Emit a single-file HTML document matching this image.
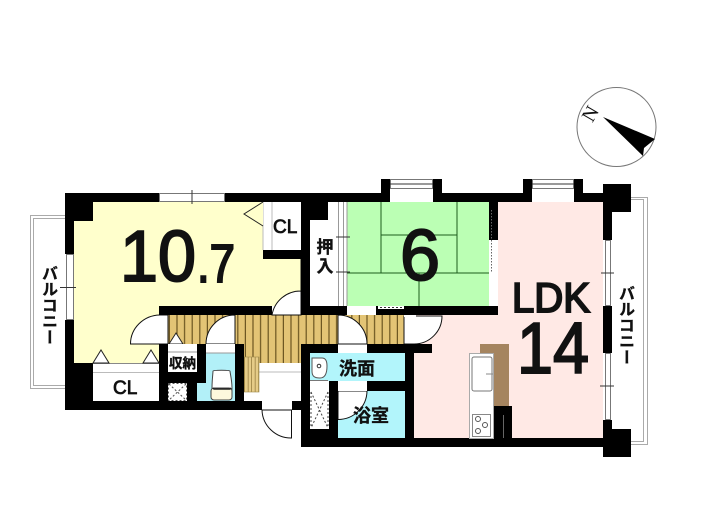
<!DOCTYPE html>
<html><head><meta charset="utf-8"><style>
html,body{margin:0;padding:0;background:#fff}
body{position:relative;width:705px;height:525px;overflow:hidden}
svg{display:block}
text{font-family:"Liberation Sans","Noto Sans CJK JP",sans-serif;fill:#111}
.j{font-weight:700;font-family:"Noto Sans CJK JP","Liberation Sans",sans-serif;stroke:#111;stroke-width:.35}
.n{stroke:#111;stroke-width:2}
.v{position:absolute;writing-mode:vertical-rl;font:700 16px/18px "Noto Sans CJK JP","Liberation Sans",sans-serif;color:#111;-webkit-text-stroke:.35px #111;white-space:nowrap}
</style></head><body>
<svg width="705" height="525" viewBox="0 0 705 525" xmlns="http://www.w3.org/2000/svg">
<defs>
<pattern id="w" width="7.6" height="10" patternUnits="userSpaceOnUse" x="170">
<rect width="7.6" height="10" fill="#e3c475"/><rect x="6.4" width="1.2" height="10" fill="#6b5520"/>
</pattern>
<pattern id="w2" width="3.5" height="10" patternUnits="userSpaceOnUse">
<rect width="3.5" height="10" fill="#e6cc88"/><rect x="2.8" width=".7" height="10" fill="#8d7538"/>
</pattern>
</defs>
<rect width="705" height="525" fill="#fff"/>
<g fill="none" stroke="#aaa">
<path d="M65 215.500H30.500V388.500H65M65 218.500H33.500V385.500H65"/>
<path d="M625 197.500H647.500V444.500H625M625 199.500H643.500V441.500H625"/>
</g>
<path d="M74 202H263V259H301V306H159V363H74Z" fill="#ffffcc"/>
<rect x="347" y="202" width="142" height="104" fill="#bbffb4"/>
<path d="M498 202H603V438H414V353H432V344H414V315H498Z" fill="#ffe9e5"/>
<rect x="168" y="315" width="67" height="29" fill="url(#w)"/>
<rect x="235" y="315" width="170" height="29" fill="url(#w)"/>
<rect x="244" y="344" width="57" height="19" fill="url(#w)"/>
<rect x="310" y="353" width="95" height="28" fill="#b2f5fb"/>
<rect x="338" y="391" width="67" height="47" fill="#b2f5fb"/>
<rect x="197" y="353" width="38" height="48" fill="#b2f0f8"/>
<rect x="244" y="363" width="57" height="38" fill="#fff"/>
<line x1="259" y1="372" x2="301" y2="372" stroke="#bbb"/>
<rect x="244" y="357" width="15" height="35" fill="url(#w2)" stroke="#a08a4a" stroke-width=".6"/>
<g fill="#fff" stroke="#111" stroke-width="1">
<path d="M160 315A30 29 0 0 0 130.500 344H168V315Z"/>
<path d="M235 315A29 29 0 0 0 206 344H235Z"/>
<path d="M338 315A29 29 0 0 1 367 344H338Z"/>
<path d="M404 316H442A28 28 0 0 1 414 344H404Z"/>
<path d="M301 259V291A29 29 0 0 0 272 315H301Z"/>
<path d="M338 391H367A29 29 0 0 1 338 419.500Z"/>
<path d="M262 410H291.500V438A29 29 0 0 1 262 410Z"/>
</g>
<rect x="404" y="314" width="12" height="3" fill="#fff"/>
<rect x="338" y="381" width="29" height="10" fill="#fff"/>
<rect x="206" y="344" width="29" height="9" fill="#fff"/>
<line x1="206" y1="353" x2="235" y2="353" stroke="#999"/>
<path fill="#000" d="M65 193H159V202H93V221H74V254H65ZM225 193H381V179H390V193H433V179H442V193H523V179H532V193H574V179H583V193H603V184H631V212H612V240H603V202H583V202H225ZM65 320H74V363H93V401H262V410H65ZM292 401H310V410H292ZM263 250H301V259H263ZM159 306H272V315H159ZM301 306H347V315H301ZM376 306H498V315H376ZM159 344H168V401H159ZM168 372H206V383H168ZM197 344H206V380H197ZM187 383H197V401H187ZM235 344H244V410H235ZM301 344H338V353H310V429H329V381H338V438H603V429H631V457H603V447H301ZM367 344H432V353H414V438H405V391H367V381H405V353H367ZM489 193H498V240H489ZM603 306H612V353H603ZM603 420H612V430H603Z"/>
<rect x="390" y="193" width="43" height="9" fill="#fff"/>
<rect x="532" y="193" width="42" height="9" fill="#fff"/>
<rect x="301" y="193" width="9" height="113" fill="#000"/>
<rect x="301" y="193" width="27" height="27" fill="#000"/>
<g fill="#fff" stroke="#777" stroke-width="1">
<rect x="159.500" y="193.500" width="65" height="8"/>
<rect x="66.500" y="254.500" width="7" height="65"/>
<rect x="390.500" y="179.500" width="42" height="9"/>
<rect x="532.500" y="179.500" width="41" height="9"/>
<rect x="605.500" y="240.500" width="5" height="65"/>
<rect x="605.500" y="353.500" width="5" height="66"/>
</g>
<path d="M192 190V204M60 287.500H76M390 184H433M532 184H574M601 273H614M600 386H614" stroke="#333" fill="none"/>
<rect x="263" y="202" width="38" height="48" fill="#fff"/>
<path d="M272 202V250M263 202V250" stroke="#bbb" fill="none"/>
<path d="M263 202L244 214L263 226" fill="#ffffcc" stroke="#222"/>
<rect x="93" y="363" width="66" height="38" fill="#fff"/>
<line x1="93" y1="372.500" x2="159" y2="372.500" stroke="#bbb"/>
<line x1="93" y1="363.500" x2="159" y2="363.500" stroke="#888"/>
<g fill="#fff" stroke="#222"><path d="M93 363L101 350L109 363Z"/><path d="M143 363L151 350L159 363Z"/><path d="M169 344L176 333L183 344Z"/></g>
<rect x="168" y="344" width="29" height="28" fill="#fff"/>
<line x1="168" y1="352" x2="197" y2="352" stroke="#999"/>
<rect x="168" y="383" width="19" height="18" fill="#fff"/>
<path d="M169 384L186 400M186 384L169 400M168.500 383.500H186.500V400.500H168.500Z" stroke="#555" stroke-dasharray="2 2" fill="none"/>
<rect x="310" y="220" width="37" height="86" fill="#fff"/>
<rect x="328" y="202" width="19" height="18" fill="#fff"/>
<path d="M338.500 202V306M343.500 202V306M347 202V306" stroke="#999" fill="none"/>
<path d="M336 237H350M336 272H350" stroke="#333" fill="none"/>
<path d="M381 202V273M457 202V273M381 235H457M347 273H489M419 273V306" stroke="#1d5c1d" fill="none"/>
<rect x="491" y="240" width="7" height="66" fill="#fff"/>
<path d="M491.500 210V272" stroke="#666" stroke-dasharray="1.500 1.500"/>
<rect x="347" y="306" width="29" height="9" fill="#fff"/>
<rect x="378" y="306" width="26" height="3" fill="#fff"/>
<path d="M380 307.500H403" stroke="#333" stroke-dasharray="2 2"/>
<path d="M312 358H322C326 358 327 362 327 366C327 374 325 378 320 378C314 378 312 376 312 371Z" fill="#fff" stroke="#555"/>
<circle cx="319" cy="366" r="1.800" fill="#fff" stroke="#333"/>
<path d="M310 380.500H328" stroke="#777"/>
<rect x="310" y="391" width="19" height="38" fill="#fff"/>
<path d="M311 392L328 428M328 392L311 428M311 392V428M328 392V428" stroke="#444" stroke-dasharray="2 2" fill="none"/>
<path d="M213 371C213 373 212 380 212 388C212 397 214 400 222 400C230 400 232 397 232 388C232 380 230 373 230 371C230 370 213 370 213 371Z" fill="#fff" stroke="#444"/>
<rect x="211" y="388" width="21" height="12" rx="3" fill="#fdf8dd" stroke="#444"/>
<path d="M213 388L214 389H230L231 388" stroke="#222" fill="none" stroke-width="1.500"/>
<rect x="480" y="344" width="29" height="62" fill="#a5845f"/>
<rect x="469.500" y="353.500" width="24" height="85" fill="#fff" stroke="#aaa"/>
<rect x="472" y="357" width="20" height="34" rx="2" fill="#fff" stroke="#777"/>
<path d="M486 374H493" stroke="#888"/>
<rect x="472.500" y="414.500" width="18" height="22" fill="#fff" stroke="#888"/>
<g fill="#fff" stroke="#555"><circle cx="478" cy="419" r="2.500"/><circle cx="485" cy="425" r="2.500"/><circle cx="478" cy="431" r="2.500"/></g>
<rect x="494" y="406" width="18" height="41" fill="#000"/>
<line x1="503.500" y1="415" x2="503.500" y2="438" stroke="#666"/>
<circle cx="616.500" cy="127" r="39.500" fill="#fff" stroke="#777"/>
<path d="M603 117L655 139L644 148L643 156Z" fill="#000"/>
<text transform="translate(596 117) rotate(-60)" text-anchor="middle" font-size="20" style='font-family:"Liberation Serif",serif'>N</text>
<text class="n" x="120" y="281" font-size="72" textLength="76" lengthAdjust="spacingAndGlyphs">10</text>
<text class="n" x="197" y="282" font-size="54" textLength="38" lengthAdjust="spacingAndGlyphs">.7</text>
<text class="n" x="400" y="280" font-size="72">6</text>
<text class="n" x="512" y="312" font-size="42" textLength="78" lengthAdjust="spacingAndGlyphs" stroke-width="1">LDK</text>
<text class="n" x="517" y="373" font-size="72" textLength="72" lengthAdjust="spacingAndGlyphs">14</text>
<text x="113" y="394" font-size="19" stroke="#111" stroke-width=".8">CL</text>
<text x="273" y="233" font-size="19" stroke="#111" stroke-width=".8">CL</text>
<text class="j" x="339" y="375" font-size="18">洗面</text>
<text class="j" x="353" y="422" font-size="18">浴室</text>
<text class="j" x="169" y="368" font-size="13.500">収納</text>
<text class="j" x="325" y="253" font-size="17" text-anchor="middle">押</text>
<text class="j" x="325" y="272" font-size="17" text-anchor="middle">入</text>
</svg>
<div class="v" style="left:41px;top:265px">バルコニー</div>
<div class="v" style="left:618px;top:285px">バルコニー</div>
</body></html>
